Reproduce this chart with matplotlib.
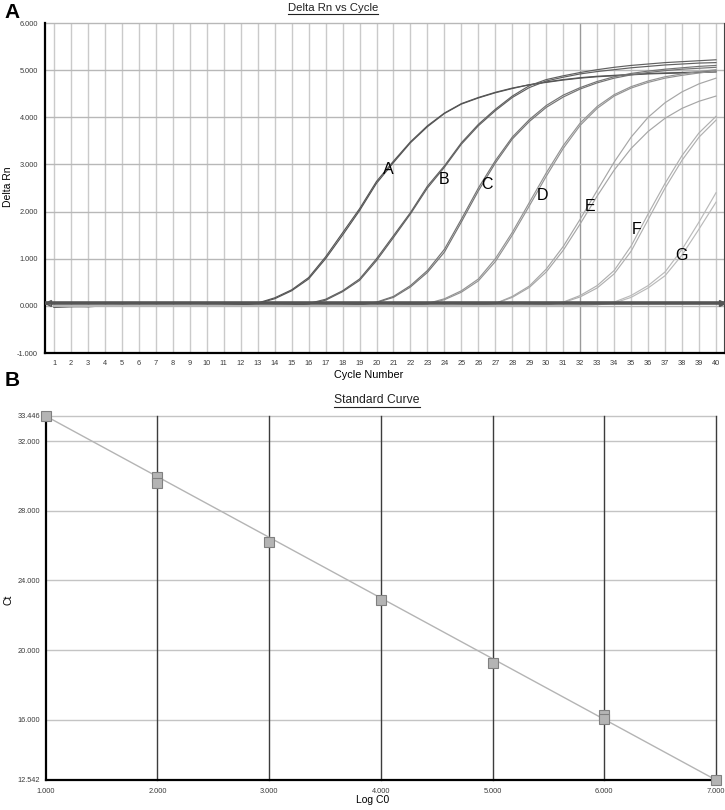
import matplotlib as mpl
import matplotlib.pyplot as plt
from matplotlib.lines import Line2D

mpl.rcParams["font.family"] = ["Liberation Sans", "DejaVu Sans"]

# ---- panel A: amplification curves (Delta Rn per cycle) ----
cycles = list(range(1, 41))

A1 = [-0.03, -0.02, -0.01, 0.00, 0.00, 0.00, 0.00, -0.01, 0.00, 0.00,
      0.01, 0.02, 0.05, 0.15, 0.32, 0.57, 1.00, 1.50, 2.02, 2.60,
      3.04, 3.46, 3.80, 4.08, 4.28, 4.41, 4.52, 4.61, 4.69, 4.74,
      4.79, 4.83, 4.86, 4.88, 4.90, 4.92, 4.93, 4.94, 4.95, 4.96]
A2 = [-0.02, -0.01, -0.02, 0.00, 0.01, 0.00, 0.00, 0.00, 0.00, 0.01,
      0.01, 0.02, 0.06, 0.17, 0.34, 0.60, 1.04, 1.55, 2.06, 2.64,
      3.07, 3.48, 3.82, 4.09, 4.29, 4.42, 4.53, 4.62, 4.69, 4.75,
      4.80, 4.84, 4.87, 4.89, 4.91, 4.93, 4.94, 4.95, 4.96, 4.98]
B1 = [-0.02, 0.00, -0.01, 0.00, 0.00, -0.01, 0.00, 0.00, 0.00, 0.00,
      0.00, 0.00, 0.01, 0.01, 0.02, 0.05, 0.14, 0.32, 0.57, 1.00,
      1.49, 1.98, 2.54, 2.97, 3.46, 3.85, 4.17, 4.45, 4.67, 4.80,
      4.88, 4.95, 5.01, 5.06, 5.10, 5.13, 5.16, 5.18, 5.20, 5.22]
B2 = [-0.01, -0.01, 0.00, 0.00, 0.00, 0.00, -0.01, 0.00, 0.00, 0.00,
      0.00, 0.00, 0.00, 0.01, 0.01, 0.04, 0.12, 0.30, 0.54, 0.96,
      1.45, 1.95, 2.50, 2.94, 3.43, 3.82, 4.14, 4.42, 4.63, 4.77,
      4.85, 4.92, 4.97, 5.01, 5.05, 5.08, 5.11, 5.13, 5.15, 5.16]
C1 = [-0.01, 0.00, 0.00, -0.01, 0.00, 0.00, 0.00, 0.00, 0.00, 0.00,
      0.00, 0.00, 0.00, 0.00, 0.00, 0.00, 0.01, 0.01, 0.03, 0.08,
      0.20, 0.43, 0.75, 1.20, 1.84, 2.50, 3.08, 3.58, 3.95, 4.25,
      4.47, 4.63, 4.76, 4.86, 4.93, 4.98, 5.02, 5.05, 5.08, 5.10]
C2 = [0.00, -0.01, 0.00, 0.00, 0.00, 0.00, 0.00, -0.01, 0.00, 0.00,
      0.00, 0.00, 0.00, 0.00, 0.00, 0.00, 0.00, 0.01, 0.02, 0.07,
      0.18, 0.40, 0.71, 1.14, 1.78, 2.44, 3.03, 3.54, 3.91, 4.21,
      4.43, 4.60, 4.73, 4.83, 4.90, 4.95, 4.99, 5.02, 5.04, 5.06]
D1 = [0.00, 0.00, -0.01, 0.00, 0.00, 0.00, 0.00, 0.00, 0.00, 0.00,
      0.00, 0.00, 0.00, 0.00, 0.00, 0.00, 0.00, 0.00, 0.00, 0.00,
      0.01, 0.02, 0.05, 0.15, 0.32, 0.57, 1.00, 1.56, 2.19, 2.82,
      3.40, 3.88, 4.23, 4.48, 4.65, 4.77, 4.86, 4.92, 4.97, 5.01]
D2 = [0.00, 0.00, 0.00, 0.00, -0.01, 0.00, 0.00, 0.00, 0.00, 0.00,
      0.00, 0.00, 0.00, 0.00, 0.00, 0.00, 0.00, 0.00, 0.00, 0.00,
      0.01, 0.02, 0.04, 0.13, 0.29, 0.53, 0.94, 1.50, 2.12, 2.75,
      3.34, 3.83, 4.19, 4.45, 4.62, 4.74, 4.83, 4.89, 4.94, 4.98]
E1 = [0.00, 0.00, 0.00, 0.00, 0.00, 0.00, 0.00, 0.00, 0.00, 0.00,
      0.00, 0.00, 0.00, 0.00, 0.00, 0.00, 0.00, 0.00, 0.00, 0.00,
      0.00, 0.00, 0.00, 0.00, 0.01, 0.02, 0.05, 0.20, 0.42, 0.78,
      1.26, 1.84, 2.45, 3.05, 3.58, 4.00, 4.31, 4.54, 4.71, 4.83]
E2 = [0.00, 0.00, 0.00, 0.00, 0.00, 0.00, 0.00, 0.00, 0.00, 0.00,
      0.00, 0.00, 0.00, 0.00, 0.00, 0.00, 0.00, 0.00, 0.00, 0.00,
      0.00, 0.00, 0.00, 0.00, 0.01, 0.02, 0.05, 0.18, 0.39, 0.72,
      1.18, 1.74, 2.33, 2.88, 3.34, 3.70, 3.98, 4.19, 4.34, 4.45]
F1 = [0.00, 0.00, 0.00, 0.00, 0.00, 0.00, 0.00, 0.00, 0.00, 0.00,
      0.00, 0.00, 0.00, 0.00, 0.00, 0.00, 0.00, 0.00, 0.00, 0.00,
      0.00, 0.00, 0.00, 0.00, 0.00, 0.00, 0.00, 0.00, 0.01, 0.03,
      0.08, 0.22, 0.43, 0.75, 1.27, 1.95, 2.60, 3.19, 3.67, 4.02]
F2 = [0.00, 0.00, 0.00, 0.00, 0.00, 0.00, 0.00, 0.00, 0.00, 0.00,
      0.00, 0.00, 0.00, 0.00, 0.00, 0.00, 0.00, 0.00, 0.00, 0.00,
      0.00, 0.00, 0.00, 0.00, 0.00, 0.00, 0.00, 0.00, 0.01, 0.02,
      0.07, 0.19, 0.38, 0.68, 1.16, 1.83, 2.50, 3.09, 3.58, 3.94]
G1 = [0.00, 0.00, 0.00, 0.00, 0.00, 0.00, 0.00, 0.00, 0.00, 0.00,
      0.00, 0.00, 0.00, 0.00, 0.00, 0.00, 0.00, 0.00, 0.00, 0.00,
      0.00, 0.00, 0.00, 0.00, 0.00, 0.00, 0.00, 0.00, 0.00, 0.00,
      0.00, 0.01, 0.03, 0.08, 0.22, 0.43, 0.72, 1.20, 1.78, 2.40]
G2 = [0.00, 0.00, 0.00, 0.00, 0.00, 0.00, 0.00, 0.00, 0.00, 0.00,
      0.00, 0.00, 0.00, 0.00, 0.00, 0.00, 0.00, 0.00, 0.00, 0.00,
      0.00, 0.00, 0.00, 0.00, 0.00, 0.00, 0.00, 0.00, 0.00, 0.00,
      0.00, 0.01, 0.02, 0.06, 0.18, 0.38, 0.64, 1.08, 1.63, 2.20]

curve_labels = ["A", "B", "C", "D", "E", "F", "G"]
curve_pairs = [(A1, A2), (B1, B2), (C1, C2), (D1, D2), (E1, E2), (F1, F2), (G1, G2)]
curve_colors = ["#555555", "#606060", "#747474", "#939393", "#a6a6a6", "#b0b0b0", "#bababa"]
label_x = [20.7, 24.0, 26.5, 29.75, 32.6, 35.3, 37.95]
label_y = [2.90, 2.68, 2.58, 2.35, 2.10, 1.63, 1.06]
threshold = 0.06

# ---- panel B: standard curve ----
log_c0 = [1, 2, 2, 3, 4, 5, 6, 6, 7]
ct = [33.446, 29.95, 29.60, 26.20, 22.87, 19.28, 16.25, 16.05, 12.542]
fit_x = [1, 7]
slope = -3.484
intercept = 36.930

W, H = 725, 810
fig = plt.figure(figsize=(W / 100, H / 100), dpi=100)

tick_kw = dict(labelsize=5.3, labelcolor="#3a3a3a", length=0)


def underlined(x, y, text, size):
	t = fig.text(x / W, 1 - y / H, text, ha="center", va="center", fontsize=size, color="#222222")
	fig.canvas.draw()
	bb = t.get_window_extent()
	fig.add_artist(Line2D([bb.x0 / W, bb.x1 / W], [(bb.y0 - 1) / H] * 2,
	                      transform=fig.transFigure, color="#222222", lw=0.8))


# ===== top panel =====
ax = fig.add_axes([45 / W, 1 - 353 / H, 679 / W, 330 / H])
ax.set_xlim(0.47, 40.47)
ax.set_ylim(-1, 6)
ax.set_xticks(cycles)
ax.set_yticks(range(-1, 7))
ax.set_yticklabels(["%.3f" % v for v in range(-1, 7)])
ax.tick_params(axis="x", pad=5, **tick_kw)
ax.tick_params(axis="y", pad=5, **tick_kw)
for c in cycles:
	ax.axvline(c, color="#9a9a9a" if c == 32 else "#cacaca", lw=1.0, zorder=0)
for v in range(0, 7):
	ax.axhline(v, color="#b8b8b8", lw=1.0, zorder=0, clip_on=False)

for (r1, r2), col in zip(curve_pairs, curve_colors):
	ax.plot(cycles, r1, color=col, lw=0.85, zorder=2)
	ax.plot(cycles, r2, color=col, lw=0.85, zorder=2)

ax.axhline(threshold, color="#555555", lw=2.6, zorder=3)
ax.plot([0.004], [threshold], marker="<", ms=4, color="#555555", mfc="none",
        transform=ax.get_yaxis_transform(), clip_on=False, zorder=4)
ax.plot([0.997], [threshold], marker=">", ms=4, color="#555555",
        transform=ax.get_yaxis_transform(), clip_on=False, zorder=4)

for lab, lx, ly in zip(curve_labels, label_x, label_y):
	ax.text(lx, ly, lab, fontsize=11.5, ha="center", va="center", color="black", zorder=5)

ax.spines["top"].set_visible(False)
ax.spines["right"].set_color("#444444")
ax.spines["left"].set_linewidth(1.6)
ax.spines["bottom"].set_linewidth(1.6)

fig.text(8 / W, 1 - 187 / H, "Delta Rn", rotation=90, ha="center", va="center", fontsize=7.5)
fig.text(369 / W, 1 - 375 / H, "Cycle Number", ha="center", va="center", fontsize=7.8)
fig.text(12 / W, 1 - 12 / H, "A", ha="center", va="center", fontsize=15, weight="bold")
underlined(333, 8, "Delta Rn vs Cycle", 8.2)

# ===== bottom panel =====
bx = fig.add_axes([45.7 / W, 1 - 780 / H, (716 - 45.7) / W, 364 / H])
bx.set_xlim(1, 7)
bx.set_ylim(12.542, 33.446)
bx.set_xticks(range(1, 8))
bx.set_xticklabels(["%.3f" % v for v in range(1, 8)])
yt = [12.542, 16, 20, 24, 28, 32, 33.446]
bx.set_yticks(yt)
bx.set_yticklabels(["%.3f" % v for v in yt])
bx.tick_params(axis="x", pad=6, **tick_kw)
bx.tick_params(axis="y", pad=4, **tick_kw)
for v in yt[1:]:
	bx.axhline(v, color="#c4c4c4", lw=1.0, zorder=0, clip_on=False)
for v in range(2, 8):
	bx.axvline(v, color="#3c3c3c", lw=1.0, zorder=0, clip_on=False)

bx.plot(fit_x, [intercept + slope * x for x in fit_x], color="#b4b4b4", lw=1.0, zorder=2)
bx.plot(log_c0, ct, ls="none", marker="s", ms=6.5, mfc="#b4b4b4", mec="#808080", mew=0.8,
        zorder=3, clip_on=False)

for s in ["top", "right"]:
	bx.spines[s].set_visible(False)
bx.spines["left"].set_linewidth(1.6)
bx.spines["bottom"].set_linewidth(1.6)

fig.text(8 / W, 1 - 600 / H, "Ct", rotation=90, ha="center", va="center", fontsize=7.5)
fig.text(373 / W, 1 - 800 / H, "Log C0", ha="center", va="center", fontsize=7.5)
fig.text(12 / W, 1 - 380 / H, "B", ha="center", va="center", fontsize=15, weight="bold")
underlined(377, 400, "Standard Curve", 8.7)

fig.savefig("out.png", dpi=100)
